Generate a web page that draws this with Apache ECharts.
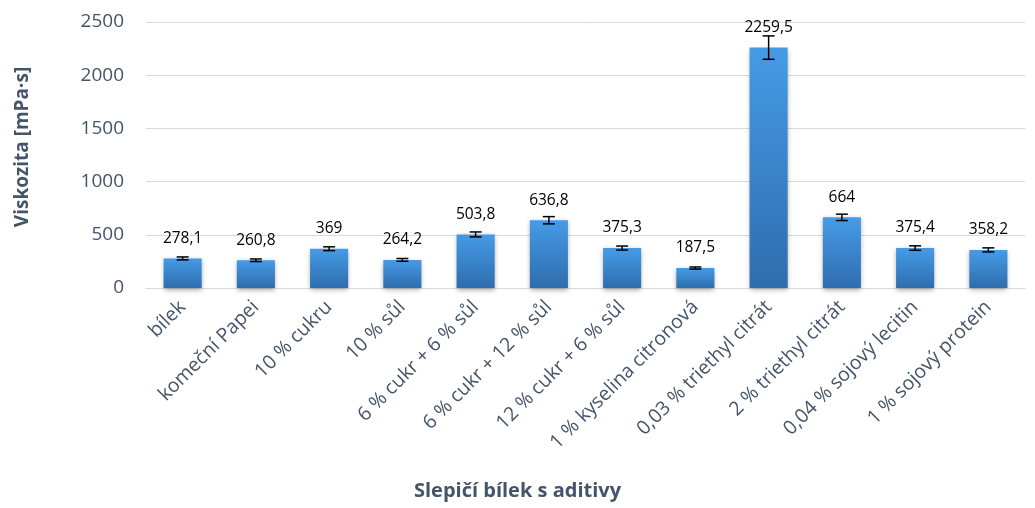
<!DOCTYPE html>
<html><head><meta charset="utf-8">
<script src="https://cdn.jsdelivr.net/npm/echarts@6/dist/echarts.min.js"></script>
<style>html,body{margin:0;padding:0;background:#fff}#c{width:1035px;height:508px}</style>
</head><body><div id="c"></div>
<script>
const categories = ["bílek","komeční Papei","10 % cukru","10 % sůl","6 % cukr + 6 % sůl","6 % cukr + 12 % sůl","12 % cukr + 6 % sůl","1 % kyselina citronová","0,03 % triethyl citrát","2 % triethyl citrát","0,04 % sojový lecitin","1 % sojový protein"];
const values = [278.1, 260.8, 369, 264.2, 503.8, 636.8, 375.3, 187.5, 2259.5, 664, 375.4, 358.2];
const errors = [14, 12, 18, 13, 23, 34, 19, 10, 110, 30, 21, 19];
const yTicks = [0, 500, 1000, 1500, 2000, 2500];

const font = "'Open Sans', 'Noto Sans', sans-serif";
const chart = echarts.init(document.getElementById('c'));
chart.setOption({
  animation: false,
  grid: {left: 146, right: 10, top: 22, bottom: 220},
  xAxis: {
    type: 'category', data: categories,
    axisLine: {lineStyle: {color: '#d9d9d9', width: 1}},
    axisTick: {show: false},
    axisLabel: {rotate: 45, interval: 0, fontFamily: font, fontSize: 19.5, color: '#44546A', margin: 16}
  },
  yAxis: {
    type: 'value', min: yTicks[0], max: yTicks[yTicks.length-1], interval: 500,
    axisLine: {show: false}, axisTick: {show: false},
    splitLine: {lineStyle: {color: '#d9d9d9', width: 1}},
    axisLabel: {fontFamily: font, fontSize: 19, color: '#44546A', margin: 22, formatter: v => String(v)}
  },
  graphic: [
    {type: 'text', left: 'center', top: 481, style: {text: 'Slepičí bílek s aditivy', font: "bold 20px 'Open Sans', sans-serif", fill: '#44546A'}},
    {type: 'text', x: 13, y: 147, rotation: Math.PI/2, style: {text: 'Viskozita [mPa·s]', font: "bold 19px 'Open Sans', sans-serif", fill: '#44546A', textAlign: 'center', textVerticalAlign: 'top'}}
  ],
  series: [
    {
      type: 'bar', data: values, barWidth: '52%',
      itemStyle: {
        color: new echarts.graphic.LinearGradient(0, 0, 0, 1, [{offset: 0, color: '#469be6'}, {offset: 1, color: '#2e6dae'}]),
        shadowBlur: 5, shadowColor: 'rgba(0,0,0,0.35)', shadowOffsetY: 2
      },
      label: {show: true, position: 'top', distance: 12, fontFamily: font, fontSize: 15.5, color: '#000',
        formatter: p => String(p.value).replace('.', ',')}
    },
    {
      type: 'custom', z: 5,
      data: values.map((v, i) => [i, v - errors[i], v + errors[i]]),
      renderItem: (params, api) => {
        const lo = api.coord([api.value(0), api.value(1)]);
        const hi = api.coord([api.value(0), api.value(2)]);
        const w = 6;
        const st = {stroke: '#000', lineWidth: 1.5};
        return {type: 'group', children: [
          {type: 'line', shape: {x1: lo[0], y1: lo[1], x2: hi[0], y2: hi[1]}, style: st},
          {type: 'line', shape: {x1: lo[0]-w, y1: lo[1], x2: lo[0]+w, y2: lo[1]}, style: st},
          {type: 'line', shape: {x1: hi[0]-w, y1: hi[1], x2: hi[0]+w, y2: hi[1]}, style: st}
        ]};
      }
    }
  ]
});
</script></body></html>
